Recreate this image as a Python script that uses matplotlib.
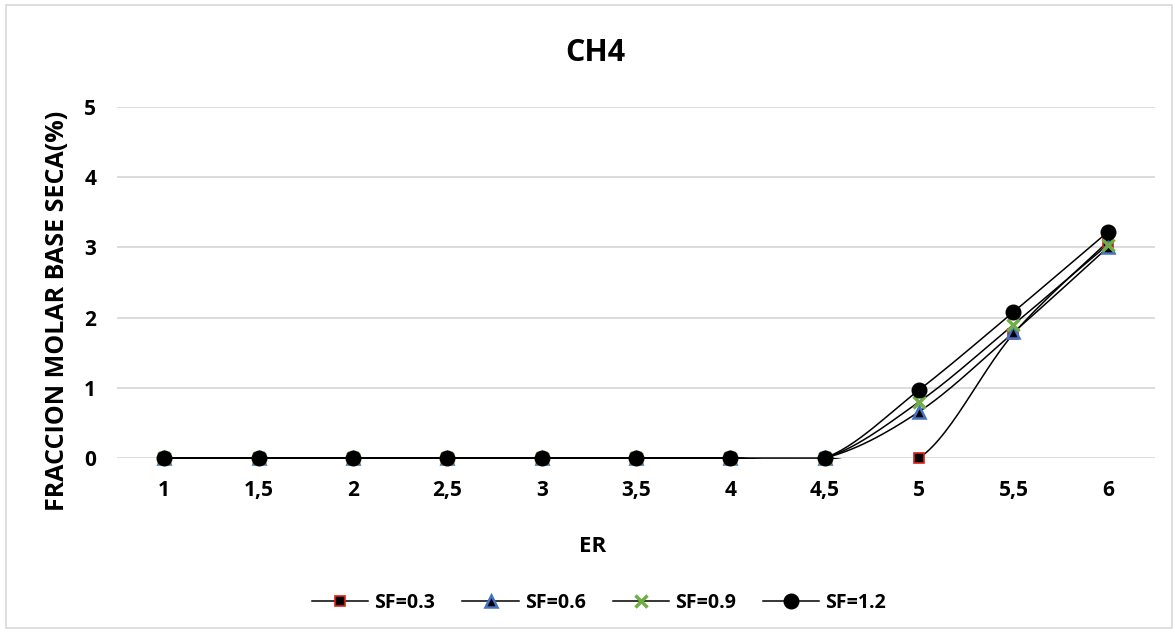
import numpy as np
import matplotlib
matplotlib.use("Agg")
import matplotlib.pyplot as plt
from matplotlib.patches import Rectangle

plt.rcParams['font.family'] = ['Open Sans', 'DejaVu Sans']
plt.rcParams['font.weight'] = 'bold'

# datos
er_labels = ["1", "1,5", "2", "2,5", "3", "3,5", "4", "4,5", "5", "5,5", "6"]
sf_03 = [0, 0, 0, 0, 0, 0, 0, 0, 0.00, 1.77, 3.08]
sf_06 = [0, 0, 0, 0, 0, 0, 0, 0, 0.66, 1.79, 3.00]
sf_09 = [0, 0, 0, 0, 0, 0, 0, 0, 0.80, 1.90, 3.04]
sf_12 = [0, 0, 0, 0, 0, 0, 0, 0, 0.97, 2.08, 3.22]
series_names = ["SF=0.3", "SF=0.6", "SF=0.9", "SF=1.2"]


def suavizar(x, y, n=30):
    # curva suavizada tipo Excel (Bezier, 1/6 de la cuerda)
    x = np.asarray(x, float)
    y = np.asarray(y, float)
    px = np.concatenate([[x[0]], x, [x[-1]]])
    py = np.concatenate([[y[0]], y, [y[-1]]])
    xs, ys = [], []
    t = np.linspace(0, 1, n)
    for i in range(1, len(px) - 2):
        p0 = np.array([px[i], py[i]])
        p3 = np.array([px[i + 1], py[i + 1]])
        c1 = p0 + (np.array([px[i + 1], py[i + 1]]) - np.array([px[i - 1], py[i - 1]])) / 6
        c2 = p3 - (np.array([px[i + 2], py[i + 2]]) - np.array([px[i], py[i]])) / 6
        b = ((1 - t) ** 3)[:, None] * p0 + (3 * (1 - t) ** 2 * t)[:, None] * c1 \
            + (3 * (1 - t) * t ** 2)[:, None] * c2 + (t ** 3)[:, None] * p3
        xs.extend(b[:, 0])
        ys.extend(b[:, 1])
    return np.array(xs), np.array(ys)


fig = plt.figure(figsize=(11.75, 6.33), dpi=100)
ax = fig.add_axes([117 / 1175, 1 - 458 / 633, 1038 / 1175, 351 / 633])

x = np.arange(len(er_labels))
estilos = [
    dict(marker='s', ms=7.5, mfc='black', mec='#E0201B', mew=1.2),
    dict(marker='^', ms=9, mfc='black', mec='#4472C4', mew=1.8),
    dict(marker='x', ms=9, mfc='#70AD47', mec='#70AD47', mew=2.5),
    dict(marker='o', ms=10.5, mfc='black', mec='black', mew=1),
]
datos = [sf_03, sf_06, sf_09, sf_12]
# recorte del area de trazado (un poco por debajo de 0 por el grosor de linea)
clip = Rectangle((-0.5, -0.02), 11, 5.5, transform=ax.transData, visible=False)
ax.add_patch(clip)
for vals, st, nombre in zip(datos, estilos, series_names):
    xs, ys = suavizar(x, vals)
    ln, = ax.plot(xs, ys, color='black', lw=1.1, zorder=3)
    ln.set_clip_path(clip)
    ax.plot(x, vals, ls='none', zorder=4, clip_on=False, **st)
    ax.plot([], [], color='black', lw=1.1, label=nombre, **st)

ax.set_xlim(-0.5, len(er_labels) - 0.5)
ax.set_ylim(0, 5)
ax.set_xticks(x)
ax.set_xticklabels(er_labels)
ax.set_yticks(range(6))
ax.tick_params(axis='x', length=0, pad=16, labelsize=15)
ax.tick_params(axis='y', length=0, pad=15, labelsize=15)
ax.grid(axis='y', color='#D9D9D9', lw=1.3)
ax.set_axisbelow(True)
for s in ax.spines.values():
    s.set_visible(False)

fig.text(595 / 1175, 1 - 53 / 633, "CH4", ha='center', va='center', fontsize=22, fontweight='bold')
fig.text(58 / 1175, 1 - 311 / 633, "FRACCION MOLAR BASE SECA(%)", rotation=90,
         ha='center', va='center', fontsize=18, fontweight='bold')
fig.text(593 / 1175, 1 - 547 / 633, "ER", ha='center', va='center', fontsize=16, fontweight='bold')

fig.legend(loc='center', bbox_to_anchor=(599 / 1175, 1 - 603 / 633), ncol=4, frameon=False,
           fontsize=14, handlelength=2.9, handletextpad=0.3, columnspacing=1.4)

fig.patches.append(Rectangle((6 / 1175, 5 / 633), 1166 / 1175, 623 / 633, transform=fig.transFigure,
                             fill=False, edgecolor='#D9D9D9', lw=1.2))

fig.savefig("out.png", dpi=100, facecolor='white')
